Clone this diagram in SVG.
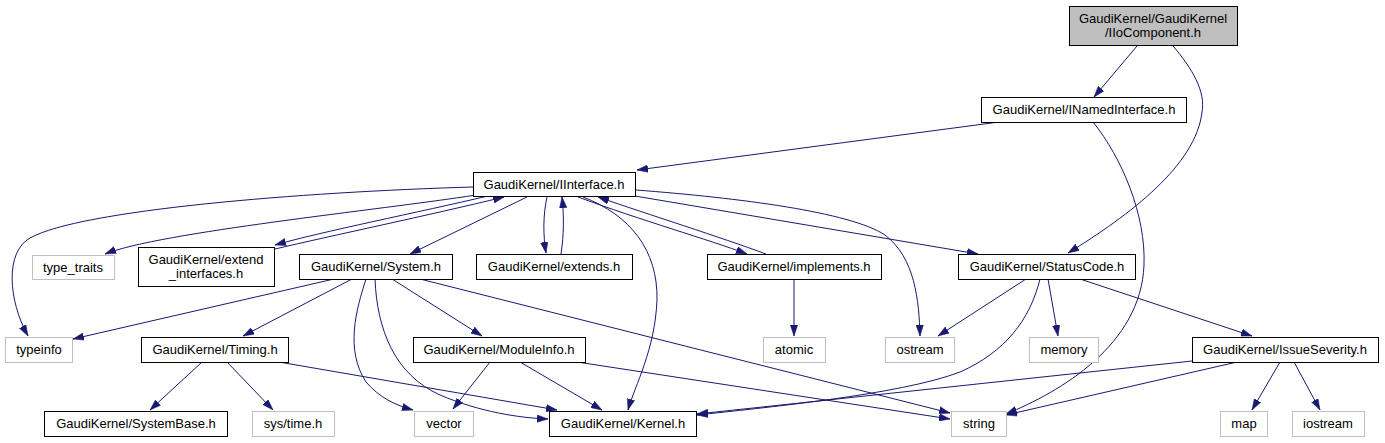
<svg xmlns="http://www.w3.org/2000/svg" width="1385" height="443" viewBox="0 0 1385 443">
<style>
.n rect{fill:#ffffff;stroke:#000000;stroke-width:1}
.x rect{fill:#ffffff;stroke:#bfbfbf;stroke-width:1}
.g rect{fill:#bfbfbf;stroke:#000000;stroke-width:1}
text{font-family:"Liberation Sans",Arial,sans-serif;font-size:13px;fill:#000000;text-anchor:middle}
#edges path{fill:none;stroke:#191970;stroke-width:1;marker-end:url(#ah)}
</style>
<defs>
<marker id="ah" markerUnits="userSpaceOnUse" markerWidth="11" markerHeight="8" refX="11" refY="4" orient="auto">
<path d="M0,0.3 L11,4 L0,7.7 z" fill="#191970" stroke="#191970" stroke-width="0.5"/>
</marker>
</defs>
<rect width="1385" height="443" fill="#ffffff"/>
<g id="edges">
<path d="M1137,46 L1094,97"/>
<path d="M1173,46 C1192,68 1206,92 1202,112 C1196,165 1130,215 1068,253"/>
<path d="M999,122 L637,170"/>
<path d="M1093,122 C1122,158 1146,215 1144,265 C1141,345 1060,392 1006,414"/>
<path d="M473,187 C300,192 80,210 30,238 C5,252 8,300 28,336"/>
<path d="M476,195 C380,210 160,232 105,254"/>
<path d="M488,196 C420,212 320,232 275,245"/>
<path d="M275,249 C330,236 430,215 504,197"/>
<path d="M527,197 L410,254"/>
<path d="M547,197 C543,215 543,235 546,253"/>
<path d="M561,254 C564,235 564,215 562,197"/>
<path d="M578,197 C640,220 710,240 747,254"/>
<path d="M766,254 C720,237 650,215 598,197"/>
<path d="M583,197 C630,215 658,250 657,300 C655,350 635,385 628,410"/>
<path d="M636,190 C740,198 850,212 885,235 C915,258 919,300 920,336"/>
<path d="M635,196 L978,254"/>
<path d="M334,279 L73,339"/>
<path d="M352,279 L243,336"/>
<path d="M366,279 C356,310 345,350 366,382 C380,398 395,405 413,410"/>
<path d="M375,279 C377,330 395,375 440,395 C480,412 520,418 548,419"/>
<path d="M392,279 L482,336"/>
<path d="M420,279 L950,413"/>
<path d="M202,362 L150,410"/>
<path d="M227,362 L273,410"/>
<path d="M279,362 L557,410"/>
<path d="M490,362 L453,409"/>
<path d="M520,362 L602,410"/>
<path d="M577,362 L950,419"/>
<path d="M1026,279 L938,336"/>
<path d="M1040,279 C1030,320 1005,352 960,372 C900,395 760,408 697,415"/>
<path d="M1048,279 L1058,336"/>
<path d="M1080,279 L1252,336"/>
<path d="M1192,361 L697,414"/>
<path d="M1237,362 L1006,415"/>
<path d="M1280,362 L1252,410"/>
<path d="M1294,362 L1320,410"/>
<path d="M794,279 L794,336"/>
</g>
<g id="n_iio" class="g"><rect x="1069.5" y="6.5" width="168" height="39"/><text x="1153" y="23">GaudiKernel/GaudiKernel</text><text x="1153" y="37">/IIoComponent.h</text></g>
<g id="n_named" class="n"><rect x="981.5" y="97.5" width="205" height="25"/><text x="1084" y="114">GaudiKernel/INamedInterface.h</text></g>
<g id="n_iint" class="n"><rect x="473.5" y="172.5" width="162" height="24"/><text x="554" y="188.5">GaudiKernel/IInterface.h</text></g>
<g id="n_tt" class="x"><rect x="32.5" y="255.5" width="82" height="24"/><text x="73" y="271.5">type_traits</text></g>
<g id="n_ext" class="n"><rect x="138.5" y="247.5" width="136" height="39"/><text x="206" y="264">GaudiKernel/extend</text><text x="206" y="278">_interfaces.h</text></g>
<g id="n_sys" class="n"><rect x="299.5" y="254.5" width="153" height="25"/><text x="376" y="271">GaudiKernel/System.h</text></g>
<g id="n_extends" class="n"><rect x="476.5" y="254.5" width="156" height="25"/><text x="554" y="271">GaudiKernel/extends.h</text></g>
<g id="n_impl" class="n"><rect x="707.5" y="254.5" width="174" height="25"/><text x="794" y="271">GaudiKernel/implements.h</text></g>
<g id="n_status" class="n"><rect x="958.5" y="254.5" width="177" height="25"/><text x="1047" y="271">GaudiKernel/StatusCode.h</text></g>
<g id="n_typeinfo" class="x"><rect x="5.5" y="337.5" width="67" height="25"/><text x="39" y="354">typeinfo</text></g>
<g id="n_timing" class="n"><rect x="141.5" y="337.5" width="147" height="25"/><text x="215" y="354">GaudiKernel/Timing.h</text></g>
<g id="n_module" class="n"><rect x="413.5" y="337.5" width="172" height="25"/><text x="499" y="354">GaudiKernel/ModuleInfo.h</text></g>
<g id="n_atomic" class="x"><rect x="763.5" y="337.5" width="62" height="25"/><text x="794" y="354">atomic</text></g>
<g id="n_ostream" class="x"><rect x="885.5" y="337.5" width="69" height="25"/><text x="920" y="354">ostream</text></g>
<g id="n_memory" class="x"><rect x="1029.5" y="337.5" width="69" height="25"/><text x="1064" y="354">memory</text></g>
<g id="n_issue" class="n"><rect x="1192.5" y="337.5" width="186" height="25"/><text x="1285" y="354">GaudiKernel/IssueSeverity.h</text></g>
<g id="n_sysbase" class="n"><rect x="44.5" y="411.5" width="183" height="25"/><text x="136" y="428">GaudiKernel/SystemBase.h</text></g>
<g id="n_systime" class="x"><rect x="252.5" y="411.5" width="82" height="25"/><text x="293" y="428">sys/time.h</text></g>
<g id="n_vector" class="x"><rect x="414.5" y="411.5" width="59" height="25"/><text x="444" y="428">vector</text></g>
<g id="n_kernel" class="n"><rect x="549.5" y="411.5" width="147" height="25"/><text x="623" y="428">GaudiKernel/Kernel.h</text></g>
<g id="n_string" class="x"><rect x="951.5" y="411.5" width="55" height="25"/><text x="979" y="428">string</text></g>
<g id="n_map" class="x"><rect x="1220.5" y="411.5" width="47" height="25"/><text x="1244" y="428">map</text></g>
<g id="n_iostream" class="x"><rect x="1292.5" y="411.5" width="72" height="25"/><text x="1328" y="428">iostream</text></g>
</svg>
